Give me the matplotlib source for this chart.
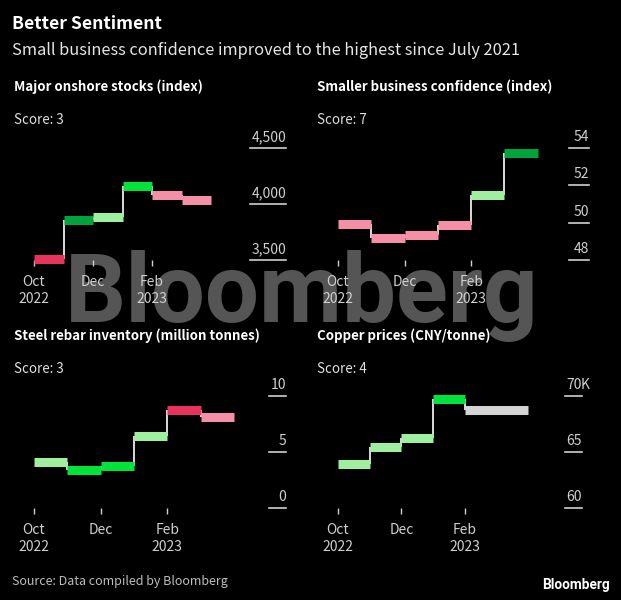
import numpy as np
import matplotlib
matplotlib.use("Agg")
import matplotlib.pyplot as plt
import matplotlib.transforms as mtransforms

plt.rcParams['font.family'] = ['Noto Sans CJK SC', 'DejaVu Sans']

# --- Daten (Monatswerte Okt 2022 bis Mrz 2023) ---
months = ["Oct", "Nov", "Dec", "Jan", "Feb", "Mar"]
tick_labels = ["Oct\n2022", "Dec", "Feb\n2023"]

stocks = [3510, 3857, 3880, 4165, 4076, 4036]
confidence = [49.93, 49.19, 49.32, 49.87, 51.48, 53.73]
rebar = [4.12, 3.42, 3.76, 6.41, 8.73, 8.11]
copper = [63.91, 65.46, 66.23, 69.71, 68.73, 68.73]

stocks_ticks = [3500, 4000, 4500]
confidence_ticks = [48, 50, 52, 54]
rebar_ticks = [0, 5, 10]
copper_ticks = [60, 65, 70]

titles = ["Major onshore stocks (index)", "Smaller business confidence (index)",
          "Steel rebar inventory (million tonnes)", "Copper prices (CNY/tonne)"]
scores = ["Score: 3", "Score: 7", "Score: 3", "Score: 4"]

# Farben je Segment
RED = "#e8335a"
PINK = "#f48fa5"
DGREEN = "#00a33c"
BGREEN = "#00e33a"
LGREEN = "#9ef09e"
GREY = "#d4d4d4"
stocks_col = [RED, DGREEN, LGREEN, BGREEN, PINK, PINK]
confidence_col = [PINK, PINK, PINK, PINK, LGREEN, DGREEN]
rebar_col = [LGREEN, BGREEN, BGREEN, LGREEN, RED, PINK]
copper_col = [LGREEN, LGREEN, LGREEN, BGREEN, GREY, GREY]

W, H = 621, 600
fig = plt.figure(figsize=(W / 100, H / 100), dpi=100, facecolor="black")
LBL = "#d0d0d0"
FS = 10


def px_axes(left, right, top, bottom):
    return fig.add_axes([left / W, 1 - bottom / H, (right - left) / W, (bottom - top) / H])


def panel(ax, vals, cols, yticks, ylabels, ppm, width_px, ul_px, suffix=None):
    ax.set_facecolor("none")
    x = np.arange(len(vals))
    # weiße Verbindungslinien
    for i in range(1, len(vals)):
        if vals[i] != vals[i - 1]:
            ax.vlines(x[i], vals[i - 1], vals[i], color="white", lw=1.2, zorder=2)
    # gleiche aufeinanderfolgende Segmente zusammenfassen
    starts, ends, yv, cv = [], [], [], []
    for i, (v, c) in enumerate(zip(vals, cols)):
        if yv and v == yv[-1] and c == cv[-1]:
            ends[-1] = i + 1
        else:
            starts.append(i); ends.append(i + 1); yv.append(v); cv.append(c)
    ax.hlines(yv, starts, ends, colors=cv, lw=6.5, capstyle="butt", zorder=3)
    ax.set_xlim(0, width_px / ppm)
    ax.set_ylim(yticks[0], yticks[-1])
    for s in ax.spines.values():
        s.set_visible(False)
    ax.set_yticks([])
    ax.set_xticks([0, 2, 4])
    ax.set_xticklabels(tick_labels, linespacing=1.25)
    ax.tick_params(axis="x", colors=LBL, length=4, width=1, pad=7, labelsize=FS)
    trans = mtransforms.blended_transform_factory(ax.transAxes, ax.transData)
    w = ul_px / width_px
    for v, lab in zip(yticks, ylabels):
        ax.plot([1 - w, 1], [v, v], color=LBL, lw=1.2, transform=trans, clip_on=False)
        ax.annotate(lab, xy=(1, v), xycoords=trans, xytext=(0, 3), textcoords="offset points",
                    ha="right", va="bottom", color=LBL, fontsize=FS, annotation_clip=False)
    if suffix:
        ax.annotate(suffix, xy=(1, yticks[-1]), xycoords=trans, xytext=(-1.2, 3),
                    textcoords="offset points", ha="left", va="bottom", color=LBL,
                    fontsize=FS, annotation_clip=False)
    for line in ax.lines + ax.collections:
        line.set_clip_on(False)


ax1 = px_axes(34, 286, 148, 260)
panel(ax1, stocks, stocks_col, stocks_ticks, ["3,500", "4,000", "4,500"], 29.5, 252, 36)
ax2 = px_axes(338, 589, 148, 260)
panel(ax2, confidence, confidence_col, confidence_ticks, [str(t) for t in confidence_ticks], 33.3, 251, 20)
ax3 = px_axes(34, 286, 396, 508)
panel(ax3, rebar, rebar_col, rebar_ticks, [str(t) for t in rebar_ticks], 33.3, 252, 17)
ax4 = px_axes(338, 582, 396, 508)
panel(ax4, copper, copper_col, copper_ticks, [str(t) for t in copper_ticks], 31.7, 244, 17, suffix="K")


# Titel und Texte
def ftext(xp, yp, s, **kw):
    fig.text(xp / W, 1 - yp / H, s, va="baseline", **kw)


ftext(12, 29, "Better Sentiment", color="white", fontsize=12.6, fontweight="bold")
ftext(12, 55, "Small business confidence improved to the highest since July 2021",
      color="#e6e6e6", fontsize=11.8)
for (xp, yp), t in zip([(14, 91), (317, 91), (14, 340), (317, 340)], titles):
    ftext(xp, yp, t, color="white", fontsize=9.6, fontweight="bold")
for (xp, yp), s in zip([(14, 124), (317, 124), (14, 373), (317, 373)], scores):
    ftext(xp, yp, s, color="#e0e0e0", fontsize=9.6)

ftext(12, 585, "Source: Data compiled by Bloomberg", color="#bdbdbd", fontsize=9)
fig.text(610 / W, 1 - 589 / H, "Bloomberg", ha="right", va="baseline", color="white",
         fontsize=9.8, fontweight="bold", family="Roboto")

# Wasserzeichen
fig.text(302 / W, 1 - 322 / H, "Bloomberg", ha="center", va="baseline", color="#555555",
         fontsize=69, fontweight="bold", family="Roboto", zorder=-1)

fig.savefig("out.png", dpi=100, facecolor="black")
